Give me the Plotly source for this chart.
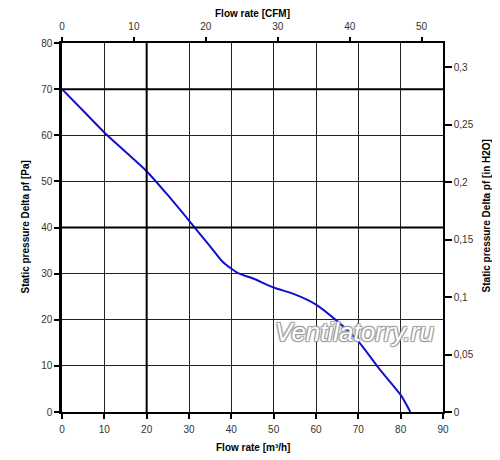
import plotly.graph_objects as go

# fan curve: flow [m3/h] vs static pressure [Pa]
flow_m3h = [0, 5, 10, 15, 20, 25, 30, 35, 38, 41.6, 45, 50, 55, 60, 65, 70, 75, 80, 82.3]
pressure_pa = [70, 65.3, 60.6, 56.4, 52.2, 47.0, 41.5, 35.9, 32.5, 30.1, 29.0, 27.0, 25.5, 23.3, 19.7, 15.3, 9.3, 3.7, 0]

x_ticks = [0, 10, 20, 30, 40, 50, 60, 70, 80, 90]
y_ticks = [0, 10, 20, 30, 40, 50, 60, 70, 80]
cfm_ticks = [0, 10, 20, 30, 40, 50]
inh2o_ticks = [0, 0.05, 0.1, 0.15, 0.2, 0.25, 0.3]
inh2o_labels = ["0", "0,05", "0,1", "0,15", "0,2", "0,25", "0,3"]

bold_x = [20]
bold_y = [40, 70]

M3H_PER_CFM = 1.699
PA_PER_INH2O = 249.089

X_MAX = 90
Y_MAX = 80

# the page body has an 8px default margin, so the figure is shrunk by that much
PAGE_PAD = 8

FONT = "Liberation Sans, Arial"
tick_font = dict(family=FONT, size=10, color="#333333")

fig = go.Figure()
fig.add_trace(go.Scatter(
    x=flow_m3h, y=pressure_pa,
    mode="lines", line=dict(color="#1010d0", width=2, shape="spline", smoothing=0.6),
    showlegend=False, hoverinfo="x+y",
))
# invisible trace to bind the secondary axes
fig.add_trace(go.Scatter(
    x=[0], y=[0], xaxis="x2", yaxis="y2", mode="markers",
    marker=dict(opacity=0), showlegend=False, hoverinfo="skip",
))

for xv in bold_x:
    fig.add_shape(type="line", xref="x", yref="paper", x0=xv, x1=xv, y0=0, y1=1,
                  line=dict(color="black", width=2))
for yv in bold_y:
    fig.add_shape(type="line", xref="paper", yref="y", x0=0, x1=1, y0=yv, y1=yv,
                  line=dict(color="black", width=2))

axis_common = dict(
    zeroline=False, showline=True, linecolor="black", automargin=False,
    ticks="outside", ticklen=5, tickcolor="black", tickwidth=1.5, tickfont=tick_font,
)

titles = [
    dict(text="<b>Flow rate [CFM]</b>", x=0.5, y=1.0, yshift=30, textangle=0, size=10),
    dict(text="<b>Flow rate [m³/h]</b>", x=0.5, y=0.0, yshift=-35, textangle=0, size=10),
    dict(text="<b>Static pressure Delta pf [Pa]</b>", x=0.0, y=0.5, xshift=-37, textangle=-90, size=10),
    dict(text="<b>Static pressure Delta pf [in H2O]</b>", x=1.0, y=0.53, xshift=43, textangle=-90, size=10),
]
annotations = []
for t in titles:
    annotations.append(dict(
        text=t["text"], xref="paper", yref="paper", x=t["x"], y=t["y"],
        xshift=t.get("xshift", 0), yshift=t.get("yshift", 0), textangle=t["textangle"],
        xanchor="center", yanchor="middle", showarrow=False,
        font=dict(family=FONT, size=t["size"], color="black"),
    ))
annotations.append(dict(
    text="<i>Ventilatorry.ru</i>", xref="x", yref="y", x=69, y=17.4,
    showarrow=False,
    font=dict(family=FONT, size=26, color="white",
              shadow="1px 1px 1px #999, -1px -1px 1px #999, 1px -1px 1px #999, -1px 1px 1px #999"),
))

fig.update_layout(
    template="none",
    width=500 - PAGE_PAD, height=460 - PAGE_PAD,
    margin=dict(l=62 - PAGE_PAD, r=57, t=43 - PAGE_PAD, b=48),
    paper_bgcolor="white", plot_bgcolor="white",
    xaxis=dict(
        range=[0, X_MAX], tickvals=x_ticks, showgrid=True, gridcolor="#222222", gridwidth=1,
        linewidth=1.5, ticklabelstandoff=2, **axis_common,
    ),
    xaxis2=dict(
        range=[0, X_MAX / M3H_PER_CFM], tickvals=cfm_ticks, overlaying="x", side="top",
        anchor="y", showgrid=False, linewidth=2, ticklabelstandoff=3,
        **{**axis_common, "ticklen": 4},
    ),
    yaxis=dict(
        range=[0, Y_MAX], tickvals=y_ticks, showgrid=True, gridcolor="#222222", gridwidth=1,
        linewidth=2.5, **axis_common,
    ),
    yaxis2=dict(
        range=[0, Y_MAX / PA_PER_INH2O], tickvals=inh2o_ticks, ticktext=inh2o_labels,
        overlaying="y", side="right", anchor="x", showgrid=False, linewidth=1.5,
        **{**axis_common, "ticklen": 7, "tickwidth": 2},
    ),
    annotations=annotations,
)

fig.write_html("out.html")
